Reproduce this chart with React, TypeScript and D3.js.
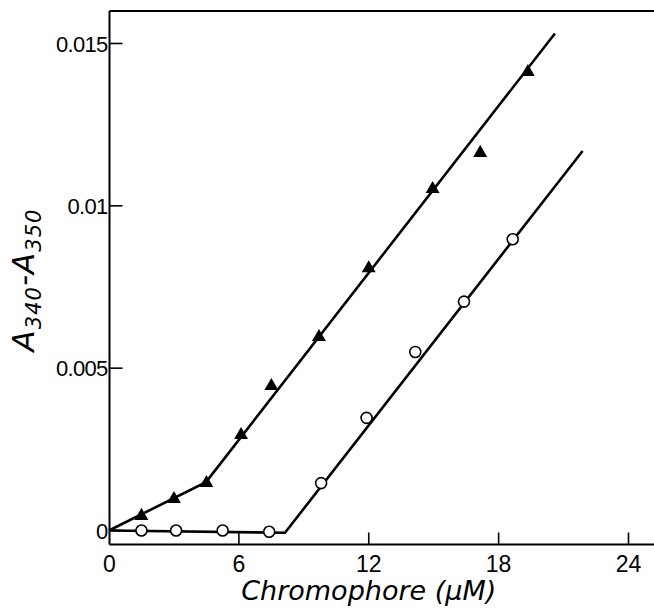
import React from "react";
import * as d3 from "d3";

// Filled triangles
const triX = [1.5, 3.0, 4.5, 6.1, 7.5, 9.7, 12.0, 14.95, 17.15, 19.35];
const triY = [0.00045, 0.00097, 0.00146, 0.00294, 0.00445, 0.00596, 0.00808, 0.01052, 0.01163, 0.01412];
// Open circles
const circX = [1.5, 3.1, 5.25, 7.4, 9.8, 11.9, 14.15, 16.4, 18.65];
const circY = [0, 0, 0, -0.00004, 0.00146, 0.00347, 0.0055, 0.00705, 0.00897];
// Fitted broken lines
const triLineX = [0, 4.48, 20.6];
const triLineY = [0, 0.00149, 0.01531];
const circLineX = [0, 8.13, 21.88];
const circLineY = [0, -0.00007, 0.01169];

const xTicks = [0, 6, 12, 18, 24];
const yTicks = [0, 0.005, 0.01, 0.015];
const yTickLabels = ["0", "0.005", "0.01", "0.015"];

const W = 654;
const H = 608;

export default function App() {
  const x = d3.scaleLinear().domain([0, 24]).range([109, 628.5]);
  const y = d3.scaleLinear().domain([0, 0.015]).range([530.5, 43.5]);
  const left = 109.5;
  const top = 11;
  const bottom = 544.5;
  const right = W;

  const line = d3
    .line<[number, number]>()
    .x((d) => x(d[0]))
    .y((d) => y(d[1]));
  const triLine = triLineX.map((v, i) => [v, triLineY[i]] as [number, number]);
  const circLine = circLineX.map((v, i) => [v, circLineY[i]] as [number, number]);
  const tri = d3.symbol().type(d3.symbolTriangle).size(84)();

  const tickFont = "'Liberation Sans', Arial, sans-serif";
  const titleFont = "'DejaVu Sans', sans-serif";

  return (
    <svg
      width={W}
      height={H}
      style={{ position: "absolute", left: 0, top: 0, background: "#fff" }}
    >
      <rect width={W} height={H} fill="#fff" />
      {/* frame */}
      <line x1={left} x2={right} y1={top} y2={top} stroke="#000" strokeWidth={2} />
      <line x1={left} x2={left} y1={top} y2={bottom} stroke="#000" strokeWidth={2} />
      <line x1={left} x2={right} y1={bottom} y2={bottom} stroke="#000" strokeWidth={2} />

      {/* y ticks */}
      {yTicks.map((t, i) => (
        <g key={"yt" + i}>
          <line x1={left} x2={left + 13} y1={y(t)} y2={y(t)} stroke="#000" strokeWidth={1.6} />
          <text
            x={left - 2}
            y={y(t) + 8}
            textAnchor="end"
            fontFamily={tickFont}
            fontSize={22}
            letterSpacing={-0.7}
            fill="#000"
          >
            {yTickLabels[i]}
          </text>
        </g>
      ))}

      {/* x ticks */}
      {xTicks.map((t, i) => (
        <g key={"xt" + i}>
          {t !== 0 && (
            <line x1={x(t)} x2={x(t)} y1={bottom} y2={bottom - 12} stroke="#000" strokeWidth={1.6} />
          )}
          <text
            x={t === 0 ? left : x(t)}
            y={572}
            textAnchor="middle"
            fontFamily={tickFont}
            fontSize={23}
            fill="#000"
          >
            {t}
          </text>
        </g>
      ))}

      {/* axis titles */}
      <text
        x={x(12)}
        y={600}
        textAnchor="middle"
        fontFamily={titleFont}
        fontStyle="italic"
        fontSize={27}
        fill="#000"
      >
        Chromophore (μM)
      </text>
      <text
        transform="translate(34,280) rotate(-90)"
        textAnchor="middle"
        fontFamily={titleFont}
        fontStyle="italic"
        fontSize={31}
        letterSpacing={1}
        fill="#000"
      >
        A<tspan fontSize={21} dy={7}>340</tspan>
        <tspan dy={-7}>-A</tspan>
        <tspan fontSize={21} dy={7}>350</tspan>
      </text>

      {/* lines */}
      <path d={line(triLine) || ""} fill="none" stroke="#000" strokeWidth={2.6} />
      <path d={line(circLine) || ""} fill="none" stroke="#000" strokeWidth={2.6} />

      {/* markers */}
      {triX.map((v, i) => (
        <path key={"tr" + i} d={tri || ""} transform={`translate(${x(v)},${y(triY[i])})`} fill="#000" />
      ))}
      {circX.map((v, i) => (
        <circle key={"c" + i} cx={x(v)} cy={y(circY[i])} r={5.5} fill="#fff" stroke="#000" strokeWidth={1.6} />
      ))}
    </svg>
  );
}
